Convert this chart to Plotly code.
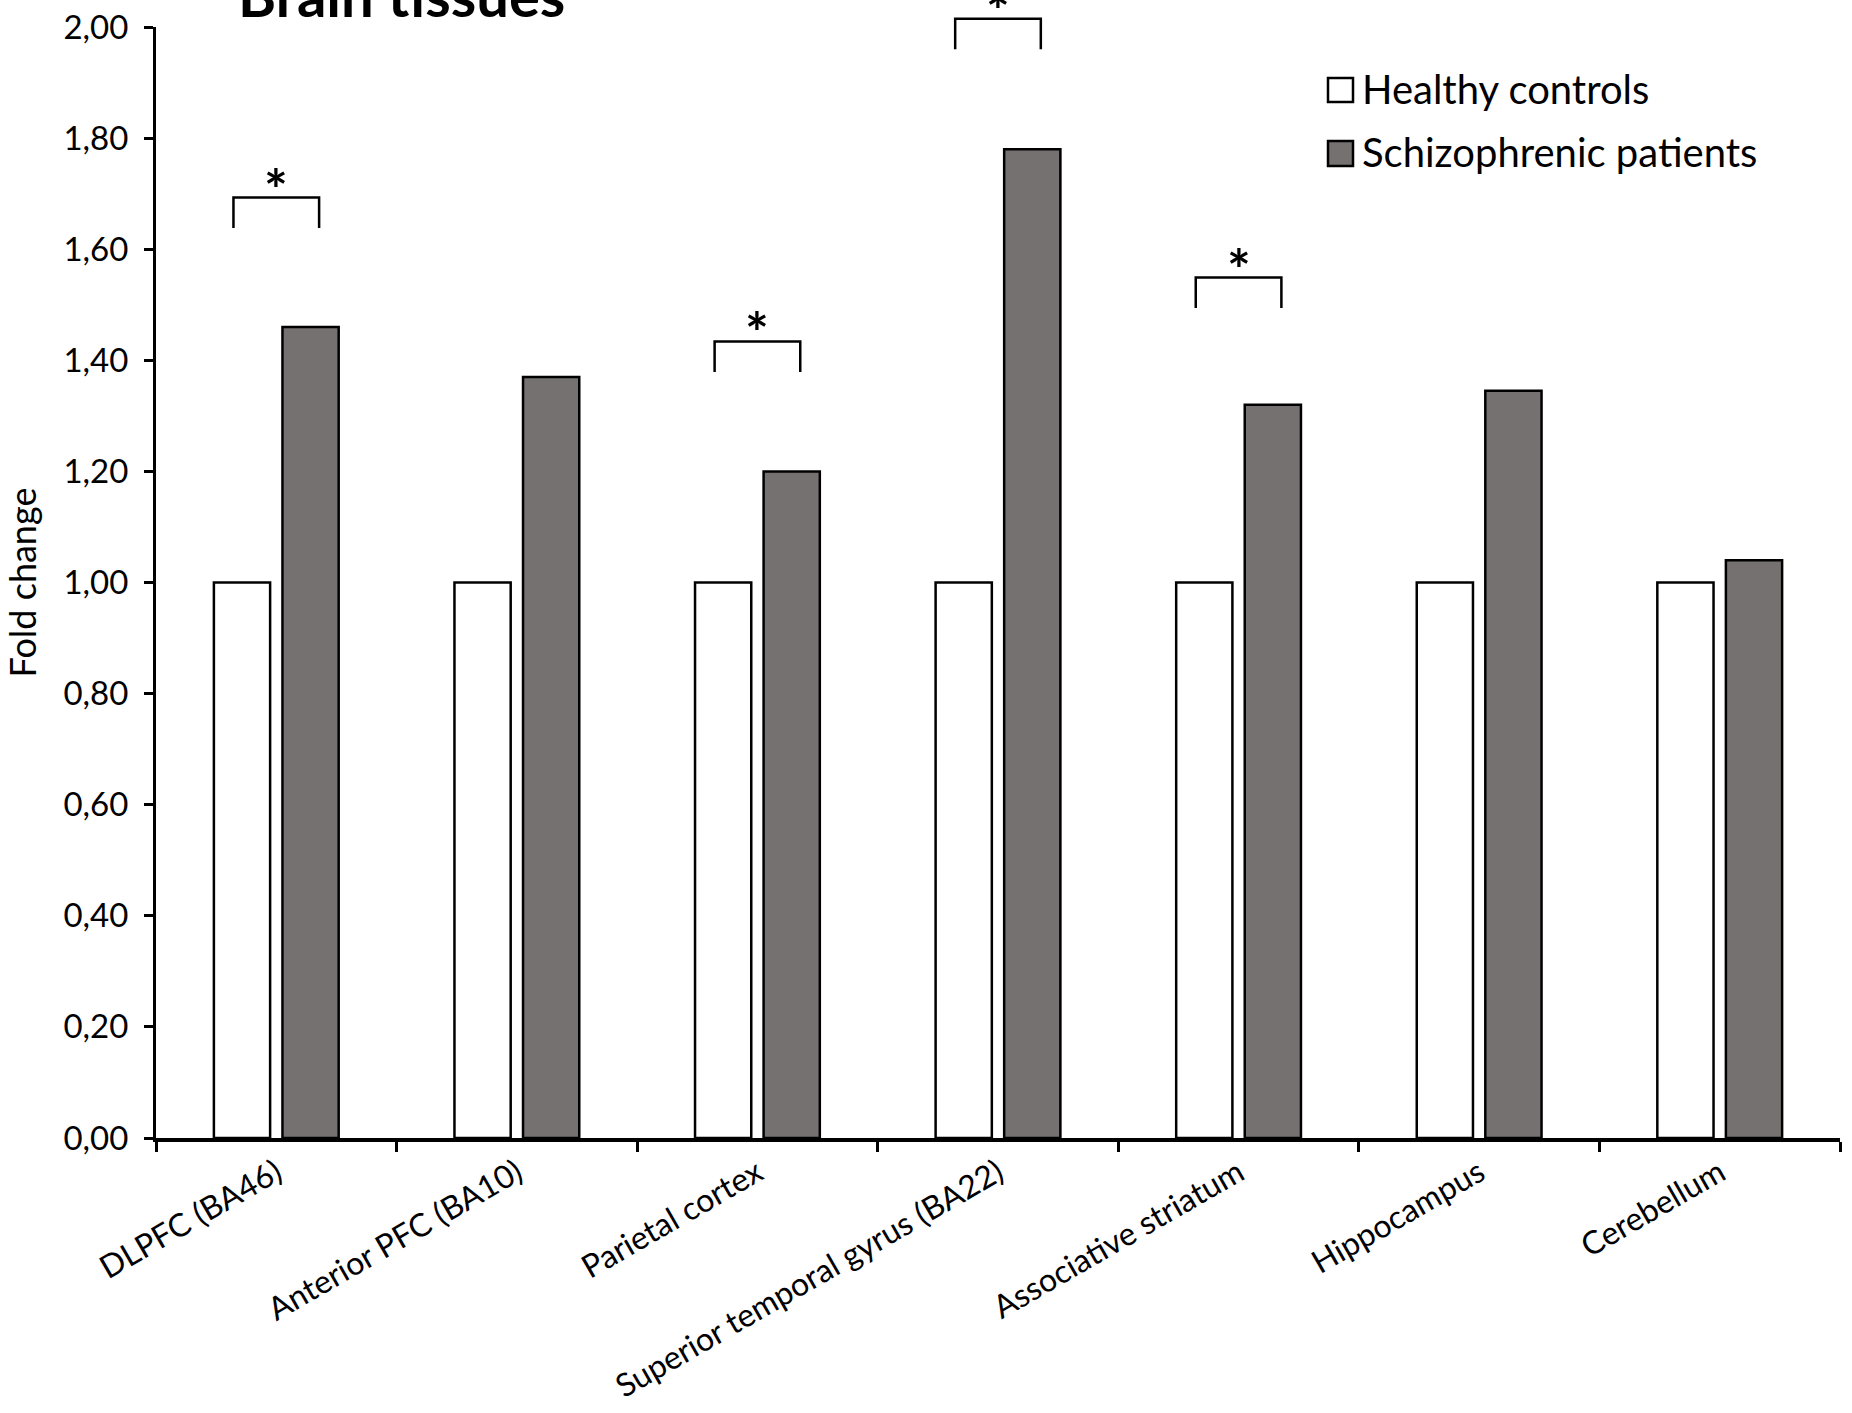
import plotly.graph_objects as go

# ---------------- data ----------------
categories = ["DLPFC (BA46)", "Anterior PFC (BA10)", "Parietal cortex",
              "Superior temporal gyrus (BA22)", "Associative striatum",
              "Hippocampus", "Cerebellum"]
healthy_name = "Healthy controls"
patients_name = "Schizophrenic patients"
healthy_values = [1.00, 1.00, 1.00, 1.00, 1.00, 1.00, 1.00]
patients_values = [1.46, 1.37, 1.20, 1.78, 1.32, 1.345, 1.04]

# significance brackets: category index and bracket top (fold change)
sig_index = [0, 2, 3, 4]
sig_top = [1.693, 1.434, 2.015, 1.549]
sig_label = ["*", "*", "*", "*"]

y_tick_values = [0.0, 0.2, 0.4, 0.6, 0.8, 1.0, 1.2, 1.4, 1.6, 1.8, 2.0]
y_tick_labels = ["0,00", "0,20", "0,40", "0,60", "0,80", "1,00",
                 "1,20", "1,40", "1,60", "1,80", "2,00"]
title_text = "Brain tissues"
y_title = "Fold change"

# ---------------- style ----------------
W, H = 1852, 1413
M_L, M_R, M_T, M_B = 156, 12, 27, 275
Y_MAX = 2.0
FONT = "Lato, Calibri, Carlito, sans-serif"
GREY = "#767171"
BRACKET_HALF = 0.178
LEG_LEN = 0.055

fig = go.Figure()
fig.add_trace(go.Bar(x=categories, y=healthy_values, name=healthy_name,
                     marker=dict(color="white", line=dict(color="black", width=2.5)),
                     showlegend=False))
fig.add_trace(go.Bar(x=categories, y=patients_values, name=patients_name,
                     marker=dict(color=GREY, line=dict(color="black", width=2.5)),
                     showlegend=False))

shapes = []
annotations = []
for idx, top, lab in zip(sig_index, sig_top, sig_label):
    x0 = idx - BRACKET_HALF
    x1 = idx + BRACKET_HALF
    yt = top / Y_MAX
    yb = (top - LEG_LEN) / Y_MAX
    shapes.append(dict(type="path", xref="x", yref="paper",
                       path=f"M {x0},{yb} L {x0},{yt} L {x1},{yt} L {x1},{yb}",
                       line=dict(color="black", width=2.5)))
    annotations.append(dict(x=idx, y=yt, xref="x", yref="paper", text=f"<b>{lab}</b>",
                            showarrow=False, xanchor="center", yanchor="bottom",
                            yshift=-26, font=dict(family=FONT, size=56, color="black")))

# manual legend (large square swatches as in the original)
plot_w = W - M_L - M_R
plot_h = H - M_T - M_B


def px_x(px):
    return (px - M_L) / plot_w


def px_y(py):
    return (H - M_B - py) / plot_h


legend_rows = [(healthy_name, "white", 78, 102, 89),
               (patients_name, GREY, 141, 166, 152)]
for name, color, top_px, bot_px, mid_px in legend_rows:
    shapes.append(dict(type="rect", xref="paper", yref="paper",
                       x0=px_x(1328), x1=px_x(1353), y0=px_y(bot_px), y1=px_y(top_px),
                       fillcolor=color, line=dict(color="black", width=2.5)))
    annotations.append(dict(x=px_x(1360), y=px_y(mid_px), xref="paper", yref="paper",
                            text=name, showarrow=False, xanchor="left", yanchor="middle",
                            font=dict(family=FONT, size=40, color="black")))

annotations.append(dict(x=px_x(236), y=1, xref="paper", yref="paper",
                        text=f"<b>{title_text}</b>", showarrow=False,
                        xanchor="left", yanchor="bottom", yshift=-4,
                        font=dict(family=FONT, size=58, color="black")))

fig.update_layout(
    width=W, height=H,
    margin=dict(l=M_L, r=M_R, t=M_T, b=M_B, autoexpand=False),
    paper_bgcolor="white", plot_bgcolor="white",
    barmode="group", bargap=0.43, bargroupgap=0.18,
    font=dict(family=FONT, size=30, color="black"),
    shapes=shapes, annotations=annotations,
    showlegend=False,
)
fig.update_xaxes(
    type="category", range=[-0.5, 6.5],
    showline=True, linecolor="black", linewidth=3.5,
    ticks="outside", tickson="boundaries", ticklen=10, tickwidth=2.5, tickcolor="black",
    tickangle=-30, tickfont=dict(family=FONT, size=32, color="black"),
    showgrid=False, zeroline=False, automargin=False,
)
fig.update_yaxes(
    range=[0, Y_MAX], tickvals=y_tick_values, ticktext=y_tick_labels,
    showline=True, linecolor="black", linewidth=3,
    ticks="outside", ticklen=9, tickwidth=2.5, tickcolor="black",
    ticklabelstandoff=9, ticklabeloverflow="allow",
    tickfont=dict(family=FONT, size=33, color="black"),
    title=dict(text=y_title, font=dict(family=FONT, size=36, color="black"), standoff=22),
    showgrid=False, zeroline=False, automargin=False,
)

fig.write_html("out.html",
               config={"displayModeBar": False},
               post_script="document.body.style.margin='0';document.body.style.overflow='hidden';")
